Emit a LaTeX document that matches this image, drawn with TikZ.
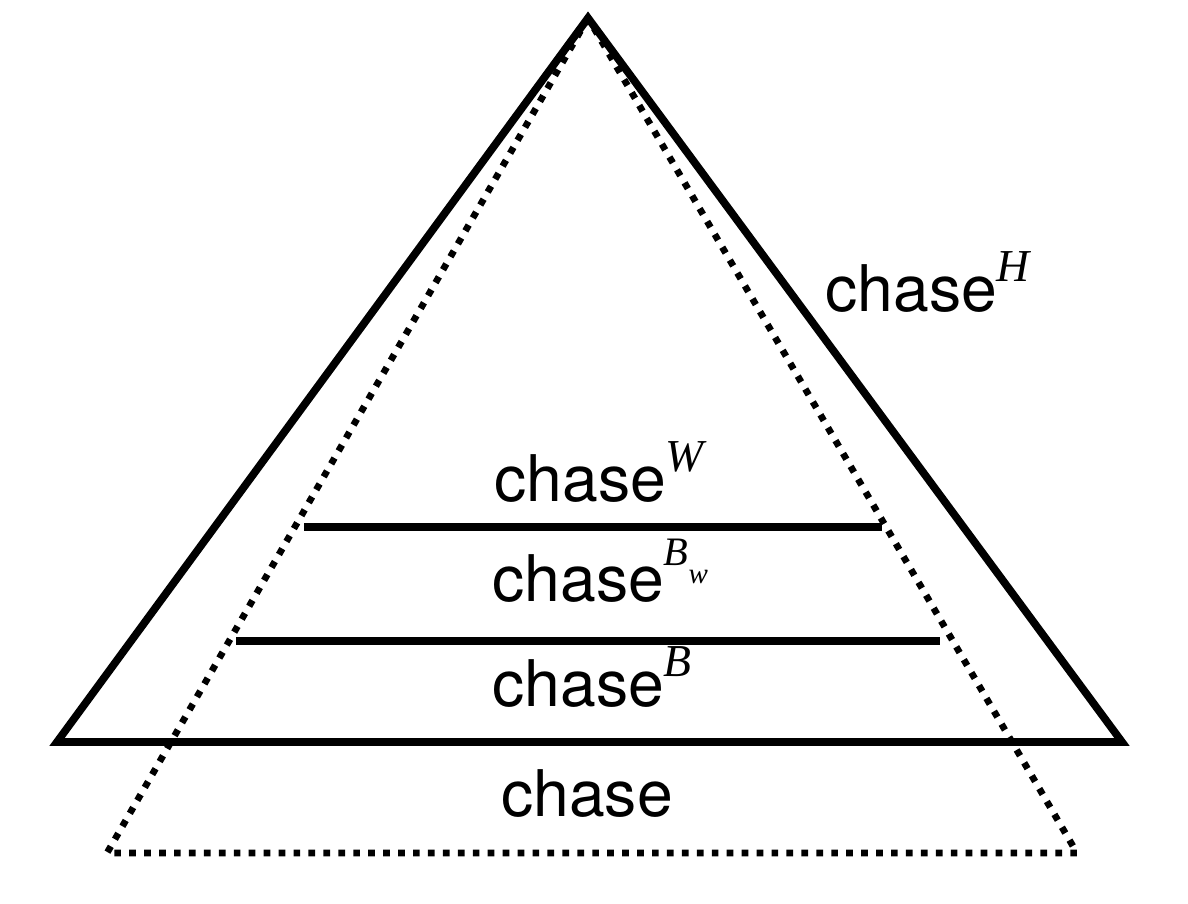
\documentclass[tikz,border=0pt]{standalone}
\usepackage{fontspec}
\setmainfont{TeX Gyre Heros}
\newfontfamily\supfont{Liberation Serif}
\usepackage{tikz}
\usetikzlibrary{calc,positioning}

% italic serif index raised after a label
\newcommand\chaseidx[1]{\raisebox{17.5pt}{\fontsize{26}{28}\selectfont\supfont\itshape #1}}
\newcommand\chaseidxsub[2]{\raisebox{21pt}{\fontsize{23}{25}\selectfont\supfont\itshape #1}\raisebox{10.8pt}{\fontsize{16.5}{18}\selectfont\supfont\itshape #2}}

\begin{document}
\begin{tikzpicture}[
  label/.style={inner sep=0pt, font=\fontsize{36.6}{40}\selectfont},
  solidline/.style={line width=4.4pt, black, line join=miter},
  dotline/.style={line width=3.8pt, black, dash pattern=on 3.8pt off 4.7pt}
]
  \useasboundingbox (0,0) rectangle (23.76,18.08);

  % corners of the two triangles
  \coordinate (top)  at (11.76,17.72);
  \coordinate (sl)   at (1.14,3.24);
  \coordinate (sr)   at (22.44,3.24);
  \coordinate (dl)   at (2.14,1.02);
  \coordinate (dr)   at (21.54,1.02);
  % ends of the two inner lines
  \coordinate (wl)   at (6.08,7.54);
  \coordinate (wr)   at (17.64,7.54);
  \coordinate (bl)   at (4.72,5.26);
  \coordinate (br)   at (18.8,5.26);

  \draw[dotline] (top) -- (dl) -- (dr) -- cycle;
  \draw[solidline] (top) -- (sl) -- (sr) -- cycle;
  \draw[solidline] (wl) -- (wr);
  \draw[solidline] (bl) -- (br);

  \node[label, anchor=base west] (h)  at (16.5,11.84) {chase\chaseidx{H}};
  \node[label, anchor=base west] (w)  at (9.88,8.04)  {chase\chaseidx{W}};
  \node[label, anchor=base west] (bw) at (9.84,6.04)  {chase\chaseidxsub{B}{w}};
  \node[label, anchor=base west] (b)  at (9.84,3.94)  {chase\chaseidx{B}};
  \node[label, anchor=base]      (c)  at (11.74,1.74) {chase};
\end{tikzpicture}
\end{document}
